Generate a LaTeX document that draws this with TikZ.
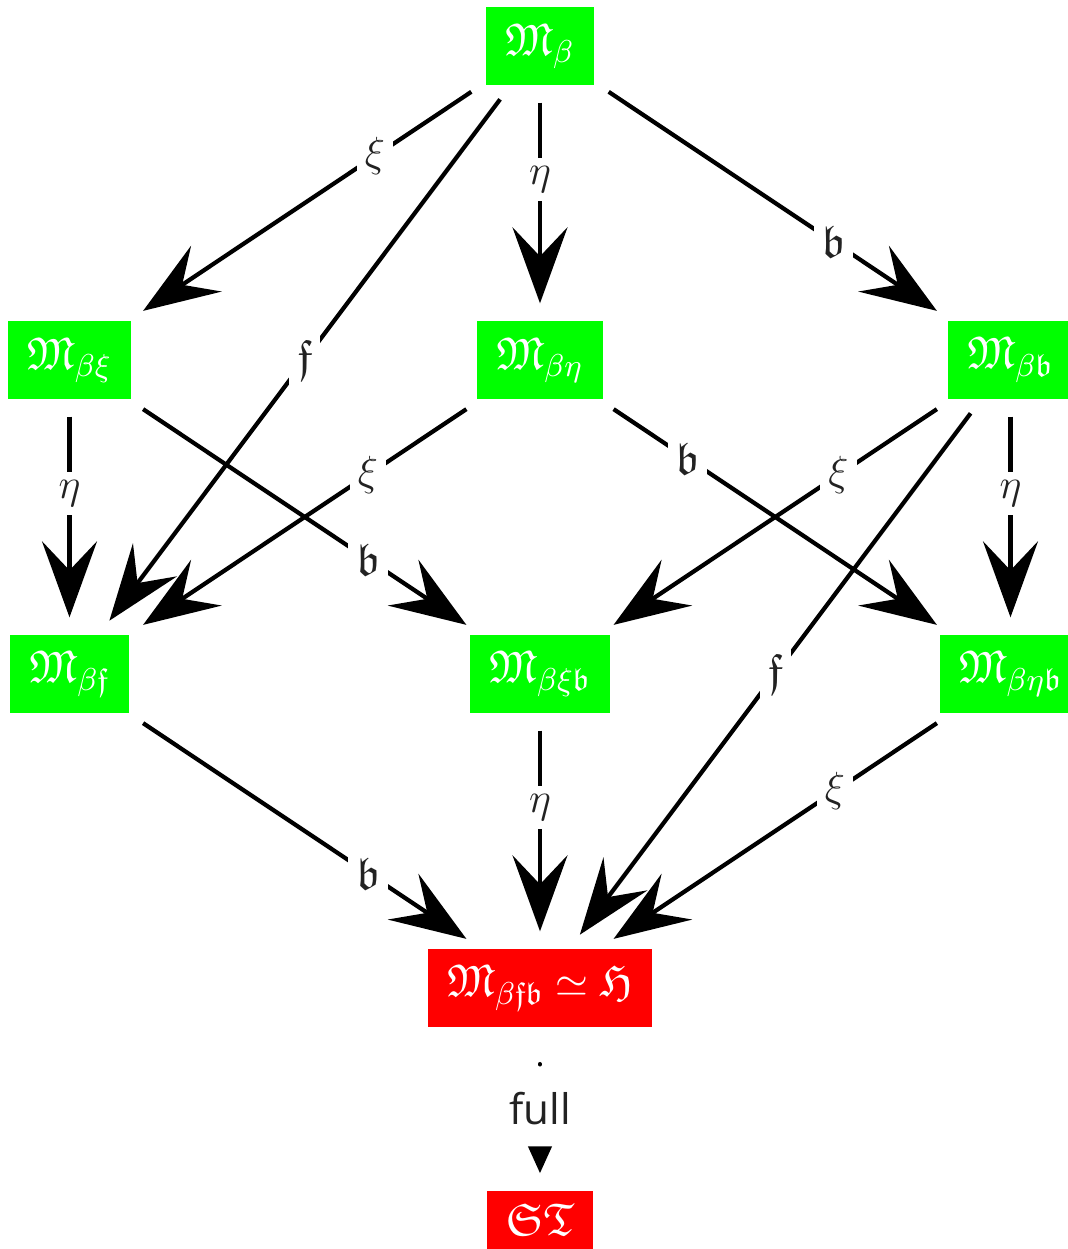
\documentclass[tikz,border=0pt]{standalone}
\usepackage{amssymb}
\usepackage{fontspec}
\usepackage{tikz}
\usetikzlibrary{positioning,arrows.meta}
\newfontfamily\edgefont{Open Sans}
\definecolor{cellgreen}{HTML}{00FF00}
\definecolor{cellred}{HTML}{FF0000}
\definecolor{labelgray}{HTML}{222222}

\begin{document}
\begin{tikzpicture}[on grid, node distance=3.14cm and 4.705cm, every node/.style={font=\fontsize{13}{15}\selectfont},
    cell/.style={fill=cellgreen, text=white, minimum height=0.78cm, inner xsep=0.19cm},
    endcell/.style={cell, fill=cellred},
    elabel/.style={fill=white, text=labelgray, inner sep=0.08cm},
    morph/.style={-{Stealth[length=7.6mm, width=5.5mm, inset=2.9mm]}, line width=1.2pt,
      shorten <=0.17cm, shorten >=0.17cm}]
    \useasboundingbox (-5.40,0.46) rectangle (5.28,-12.03);
    % the lattice of models
    \node[cell] (mb) {$\mathfrak{M}_{\beta}$};
    \node[cell] (mbe) [below=of mb] {$\mathfrak{M}_{\beta\eta}$};
    \node[cell] (mbx) [left=of mbe] {$\mathfrak{M}_{\beta\xi}$};
    \node[cell] (mbb) [right=of mbe] {$\mathfrak{M}_{\beta\mathfrak{b}}$};
    \node[cell] (mbxb) [below=of mbe] {$\mathfrak{M}_{\beta\xi\mathfrak{b}}$};
    \node[cell] (mbf) [left=of mbxb] {$\mathfrak{M}_{\beta\mathfrak{f}}$};
    \node[cell] (mbeb) [right=of mbxb] {$\mathfrak{M}_{\beta\eta\mathfrak{b}}$};
    \node[endcell] (mfb) [below=of mbxb] {$\mathfrak{M}_{\beta\mathfrak{f}\mathfrak{b}} \simeq \mathfrak{H}$};
    \node[endcell, minimum height=0.58cm] (st) [below=2.32cm of mfb] {$\mathfrak{S}\mathfrak{T}$};
    % top row
    \draw[morph] (mb) -- node[elabel, pos=0.31] {$\xi$} (mbx);
    \draw[morph] (mb) -- node[elabel, pos=0.5] {$\mathfrak{f}$} (mbf);
    \draw[morph] (mb) -- node[elabel, pos=0.4] {$\eta$} (mbe);
    \draw[morph] (mb) -- node[elabel, pos=0.67] {$\mathfrak{b}$} (mbb);
    % middle row
    \draw[morph] (mbx) -- node[elabel, pos=0.4] {$\eta$} (mbf);
    \draw[morph] (mbx) -- node[elabel, pos=0.68] {$\mathfrak{b}$} (mbxb);
    \draw[morph] (mbe) -- node[elabel, pos=0.32] {$\xi$} (mbf);
    \draw[morph] (mbe) -- node[elabel, pos=0.25] {$\mathfrak{b}$} (mbeb);
    \draw[morph] (mbb) -- node[elabel, pos=0.32] {$\xi$} (mbxb);
    \draw[morph] (mbb) -- node[elabel, pos=0.5] {$\mathfrak{f}$} (mfb);
    \draw[morph] (mbb) -- node[elabel, pos=0.4] {$\eta$} (mbeb);
    % bottom row
    \draw[morph] (mbf) -- node[elabel, pos=0.68] {$\mathfrak{b}$} (mfb);
    \draw[morph] (mbxb) -- node[elabel, pos=0.4] {$\eta$} (mfb);
    \draw[morph] (mbeb) -- node[elabel, pos=0.33] {$\xi$} (mfb);
    \draw[line width=1.2pt, line cap=round, dash pattern=on 0.1pt off 20cm, dash phase=196.4mm,
      -{Triangle[length=2.7mm, width=2.3mm]}, shorten >=0.17cm]
      (mfb) -- node[elabel, font=\large\edgefont] {full} (st);
\end{tikzpicture}
\end{document}
